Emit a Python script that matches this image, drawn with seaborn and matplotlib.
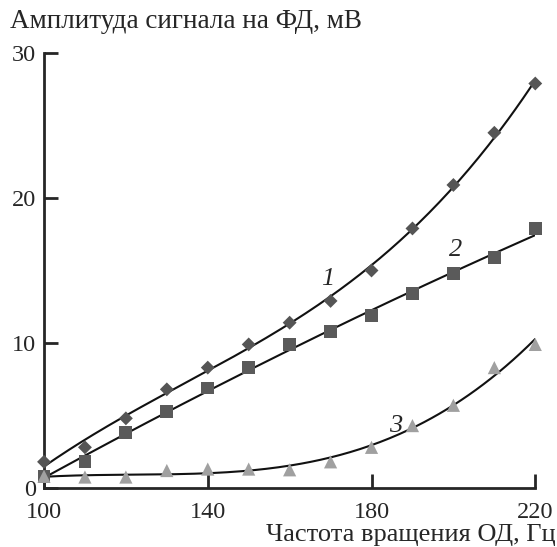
import numpy as np
import matplotlib
matplotlib.use("Agg")
import matplotlib.pyplot as plt
import seaborn as sns
import pandas as pd

# Data
freq = [100, 110, 120, 130, 140, 150, 160, 170, 180, 190, 200, 210, 220]
amp_1 = [1.8, 2.8, 4.8, 6.8, 8.3, 9.9, 11.4, 12.9, 15.0, 17.9, 20.9, 24.5, 27.9]
amp_2 = [0.8, 1.8, 3.8, 5.3, 6.9, 8.3, 9.9, 10.8, 11.9, 13.4, 14.8, 15.9, 17.9]
amp_3 = [0.8, 0.75, 0.75, 1.2, 1.3, 1.3, 1.25, 1.8, 2.8, 4.3, 5.7, 8.3, 9.9]

x_ticks = [100, 140, 180, 220]
y_ticks = [0, 10, 20, 30]

sns.set_style("ticks")
plt.rcParams['font.family'] = ['Liberation Serif', 'DejaVu Serif']

fig = plt.figure(figsize=(5.57, 5.47), dpi=100)
ax = fig.add_axes([0.079, 0.108, 0.882, 0.795])

# Fitted curves
xs = np.linspace(100, 220, 200)
fits = [(amp_1, 3), (amp_2, 2), (amp_3, 3)]
for vals, deg in fits:
    coef = np.polyfit(freq, vals, deg)
    sns.lineplot(x=xs, y=np.polyval(coef, xs), color="#111111", linewidth=1.5, ax=ax)

# Measured points
df = pd.DataFrame({"freq": freq, "a1": amp_1, "a2": amp_2, "a3": amp_3})
sns.scatterplot(data=df, x="freq", y="a1", marker="D", s=50, color="#555555",
                edgecolor="none", ax=ax, zorder=3, clip_on=False)
sns.scatterplot(data=df, x="freq", y="a2", marker="s", s=85, color="#5a5a5a",
                edgecolor="none", ax=ax, zorder=3, clip_on=False)
sns.scatterplot(data=df, x="freq", y="a3", marker="^", s=90, color="#a0a0a0",
                edgecolor="none", ax=ax, zorder=3, clip_on=False)

ax.set_xlim(100, 220)
ax.set_ylim(0, 30)
ax.set_xticks(x_ticks)
ax.set_yticks(y_ticks)
ax.set_xlabel("")
ax.set_ylabel("")
ax.tick_params(direction="in", length=10, width=2, labelsize=17.5)
ax.tick_params(axis="y", pad=6)
ax.tick_params(axis="x", pad=10)
for side in ["left", "bottom"]:
    ax.spines[side].set_linewidth(2)
sns.despine(ax=ax)

# Curve labels
ax.text(169.2, 14.4, "1", fontsize=19, style="italic", ha="center", va="center")
ax.text(200.5, 16.4, "2", fontsize=19, style="italic", ha="center", va="center")
ax.text(185.8, 4.3, "3", fontsize=19, style="italic", ha="center", va="center")

fig.text(0.018, 0.96, "Амплитуда сигнала на ФД, мВ", fontsize=19.5, ha="left", va="center")
fig.text(0.997, 0.002, "Частота вращения ОД, Гц", fontsize=19, ha="right", va="bottom")

fig.savefig("out.png", dpi=100)
